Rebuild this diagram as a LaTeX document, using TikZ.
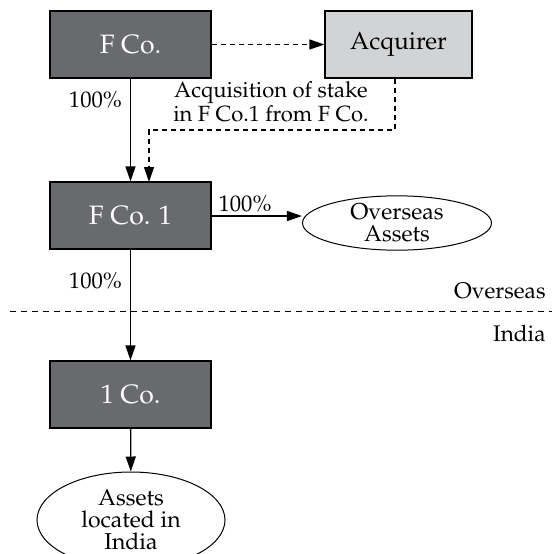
\documentclass[tikz,border=0pt]{standalone}
\usepackage[T1]{fontenc}
\usepackage{mathpazo}
\usetikzlibrary{arrows.meta,shapes.geometric}

\definecolor{darkbox}{RGB}{105,106,110}
\definecolor{lightbox}{RGB}{210,211,213}

\tikzset{
	company/.style={draw=black, fill=darkbox, text=white, line width=0.6pt,
		minimum width=80.5pt, minimum height=33.5pt, font=\fontsize{13.3}{15}\selectfont},
	buyer/.style={company, fill=lightbox, text=black, minimum width=73.5pt, font=\fontsize{12.3}{14}\selectfont},
	asset/.style={draw, ellipse, inner sep=0pt, line width=0.5pt, align=center,
		font=\fontsize{11.5}{11}\selectfont},
	owns/.style={line width=0.65pt, -{Triangle[length=7.5pt,width=5pt]}},
	deal/.style={owns, dash pattern=on 2.5pt off 2pt},
	pct/.style={font=\fontsize{11.3}{11}\selectfont, inner sep=0pt}
}

\begin{document}
\begin{tikzpicture}[x=0.5pt,y=-0.5pt]
	\useasboundingbox (0,0) rectangle (552,554);

	% Firmy
	\node[company] (fco) at (130.5,44.5) {F Co.};
	\node[buyer] (acq) at (398.5,44.5) {Acquirer};
	\node[company] (fcoa) at (130.5,215.5) {F Co. 1};
	\node[company] (ico) at (130.5,394.5) {1 Co.};

	% Aktywa
	\node[asset, minimum width=94.5pt, minimum height=26.5pt] (ovs) at (397,223) {Overseas\\Assets};
	\node[asset, minimum width=94pt, minimum height=48pt] (ind) at (131,520) {Assets\\located in\\India};

	% Udzialy
	\draw[owns] (fco) -- (fcoa) node[pct, pos=0.21, left=4pt] {100\%};
	\draw[owns] (fcoa.east |- 0,216) -- (ovs.west |- 0,216) node[pct, pos=0.37, above=1.5pt] {100\%};
	\draw[owns] (fcoa) -- (ico) node[pct, pos=0.28, left=4pt] {100\%};
	\draw[owns] (ico) -- (ind);

	% Transakcja
	\coordinate (turn) at (395,130);
	\draw[deal] (fco) -- (acq);
	\draw[deal] (acq.south -| turn) -- (turn) -- (149,130) -- (149,182);
	\node[align=center, font=\fontsize{11}{8.5}\selectfont, inner sep=0pt] (opis) at (271,102) {Acquisition of stake\\in F Co.1 from F Co.};

	% Granica
	\draw[line width=0.5pt, dash pattern=on 3pt off 2.5pt] (10,311) -- (552,311);
	\node[pct, anchor=base east] (zagr) at (546,298) {Overseas};
	\node[pct, anchor=base east] (kraj) at (546,341) {India};
\end{tikzpicture}
\end{document}
